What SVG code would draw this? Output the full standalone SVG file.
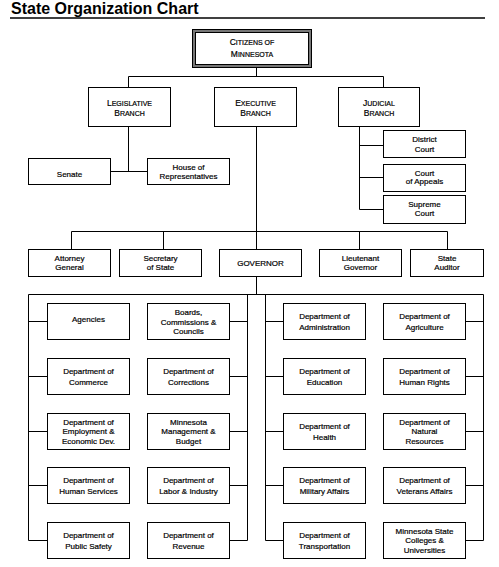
<svg xmlns="http://www.w3.org/2000/svg" width="499" height="567" viewBox="0 0 499 567">
<style>
.bg{fill:#fff}
.box{fill:#fff;stroke:#000;stroke-width:1}
.t{font-family:"Liberation Sans",Arial,sans-serif;font-size:8px;fill:#000;stroke:#000;stroke-width:0.2;text-anchor:middle}
.sc{font-family:"Liberation Sans",Arial,sans-serif;fill:#000;stroke:#000;stroke-width:0.2;text-anchor:middle;font-size:7px}
.big{font-size:8.5px}
.title{font-family:"Liberation Sans",Arial,sans-serif;font-size:16px;font-weight:bold;fill:#000}
.ln{fill:none;stroke:#000;stroke-width:1}
</style>
<rect class="bg" x="0" y="0" width="499" height="567"/>
<g id="title">
<text class="title" x="11" y="13.5">State Organization Chart</text>
<line x1="10" y1="18" x2="485" y2="18" stroke="#000" stroke-width="1.3"/>
</g>
<g id="connectors" class="ln">
<path d="M256.5 68 V76.5 M128.5 87 V76.5 H383.5 V87"/>
<path d="M128.5 127 V171.5 M110 171.5 H147"/>
<path d="M359.5 127 V209.5 M359.5 145.5 H383 M359.5 177.5 H383 M359.5 209.5 H383"/>
<path d="M256.5 127 V249 M71.5 249 V231.5 H447.5 V249 M163.5 231.5 V249 M359.5 231.5 V249"/>
<path d="M256.5 276 V294.5 M28.5 294.5 H483.5"/>
<path d="M28.5 294.5 V540.5 H47 M28.5 321.5 H47 M28.5 376.5 H47 M28.5 431.5 H47 M28.5 485.5 H47"/>
<path d="M247.5 294.5 V540.5 H229 M247.5 321.5 H229 M247.5 376.5 H229 M247.5 431.5 H229 M247.5 485.5 H229"/>
<path d="M265.5 294.5 V540.5 H283 M265.5 321.5 H283 M265.5 376.5 H283 M265.5 431.5 H283 M265.5 485.5 H283"/>
<path d="M483.5 294.5 V540.5 H465 M483.5 321.5 H465 M483.5 376.5 H465 M483.5 431.5 H465 M483.5 485.5 H465"/>
</g>
<g id="citizens">
<rect x="192.5" y="29.5" width="119" height="38" fill="#777" stroke="#000" stroke-width="1"/>
<rect x="195.5" y="32.5" width="113" height="32" class="box"/>
<text class="sc" x="252" y="45.3"><tspan class="big">C</tspan>ITIZENS OF</text>
<text class="sc" x="252" y="56.7"><tspan class="big">M</tspan>INNESOTA</text>
</g>
<g id="legislative">
<rect class="box" x="88.5" y="87.5" width="82" height="39"/>
<text class="sc" x="129.5" y="106"><tspan class="big">L</tspan>EGISLATIVE</text>
<text class="sc" x="129.5" y="116"><tspan class="big">B</tspan>RANCH</text>
</g>
<g id="executive">
<rect class="box" x="214.5" y="87.5" width="82" height="39"/>
<text class="sc" x="255.5" y="106"><tspan class="big">E</tspan>XECUTIVE</text>
<text class="sc" x="255.5" y="116"><tspan class="big">B</tspan>RANCH</text>
</g>
<g id="judicial">
<rect class="box" x="338.5" y="87.5" width="81" height="39"/>
<text class="sc" x="379" y="106"><tspan class="big">J</tspan>UDICIAL</text>
<text class="sc" x="379" y="116"><tspan class="big">B</tspan>RANCH</text>
</g>
<g id="senate">
<rect class="box" x="28.5" y="158.5" width="82" height="26"/>
<text class="t" x="69.5" y="177">Senate</text>
</g>
<g id="house">
<rect class="box" x="147.5" y="158.5" width="82" height="26"/>
<text class="t" x="188.5" y="170">House of</text>
<text class="t" x="188.5" y="179">Representatives</text>
</g>
<g id="district-court">
<rect class="box" x="383.5" y="130.5" width="82" height="27"/>
<text class="t" x="424.5" y="142">District</text>
<text class="t" x="424.5" y="151.5">Court</text>
</g>
<g id="court-of-appeals">
<rect class="box" x="383.5" y="164.5" width="82" height="27"/>
<text class="t" x="424.5" y="175.5">Court</text>
<text class="t" x="424.5" y="184">of Appeals</text>
</g>
<g id="supreme-court">
<rect class="box" x="383.5" y="195.5" width="82" height="28"/>
<text class="t" x="424.5" y="206.5">Supreme</text>
<text class="t" x="424.5" y="216">Court</text>
</g>
<g id="attorney-general">
<rect class="box" x="28.5" y="249.5" width="82" height="27"/>
<text class="t" x="69.5" y="260.5">Attorney</text>
<text class="t" x="69.5" y="270">General</text>
</g>
<g id="secretary-of-state">
<rect class="box" x="119.5" y="249.5" width="82" height="27"/>
<text class="t" x="160.5" y="260.5">Secretary</text>
<text class="t" x="160.5" y="270">of State</text>
</g>
<g id="governor">
<rect class="box" x="219.5" y="249.5" width="82" height="27"/>
<text class="t" x="260.5" y="266">GOVERNOR</text>
</g>
<g id="lieutenant-governor">
<rect class="box" x="319.5" y="249.5" width="82" height="27"/>
<text class="t" x="360.5" y="260.5">Lieutenant</text>
<text class="t" x="360.5" y="270">Governor</text>
</g>
<g id="state-auditor">
<rect class="box" x="410.5" y="249.5" width="73" height="27"/>
<text class="t" x="447" y="260.5">State</text>
<text class="t" x="447" y="270">Auditor</text>
</g>
<g id="agencies">
<rect class="box" x="47.5" y="303.5" width="82" height="36"/>
<text class="t" x="88.5" y="322">Agencies</text>
</g>
<g id="boards">
<rect class="box" x="147.5" y="303.5" width="82" height="36"/>
<text class="t" x="188.5" y="315">Boards,</text>
<text class="t" x="188.5" y="324.5">Commissions &amp;</text>
<text class="t" x="188.5" y="334">Councils</text>
</g>
<g id="administration">
<rect class="box" x="283.5" y="303.5" width="82" height="36"/>
<text class="t" x="324.5" y="319">Department of</text>
<text class="t" x="324.5" y="330">Administration</text>
</g>
<g id="agriculture">
<rect class="box" x="383.5" y="303.5" width="82" height="36"/>
<text class="t" x="424.5" y="319">Department of</text>
<text class="t" x="424.5" y="330">Agriculture</text>
</g>
<g id="commerce">
<rect class="box" x="47.5" y="358.5" width="82" height="36"/>
<text class="t" x="88.5" y="374">Department of</text>
<text class="t" x="88.5" y="385">Commerce</text>
</g>
<g id="corrections">
<rect class="box" x="147.5" y="358.5" width="82" height="36"/>
<text class="t" x="188.5" y="374">Department of</text>
<text class="t" x="188.5" y="385">Corrections</text>
</g>
<g id="education">
<rect class="box" x="283.5" y="358.5" width="82" height="36"/>
<text class="t" x="324.5" y="374">Department of</text>
<text class="t" x="324.5" y="385">Education</text>
</g>
<g id="human-rights">
<rect class="box" x="383.5" y="358.5" width="82" height="36"/>
<text class="t" x="424.5" y="374">Department of</text>
<text class="t" x="424.5" y="385">Human Rights</text>
</g>
<g id="employment">
<rect class="box" x="47.5" y="413.5" width="82" height="36"/>
<text class="t" x="88.5" y="424.5">Department of</text>
<text class="t" x="88.5" y="434">Employment &amp;</text>
<text class="t" x="88.5" y="443.5">Economic Dev.</text>
</g>
<g id="mmb">
<rect class="box" x="147.5" y="413.5" width="82" height="36"/>
<text class="t" x="188.5" y="424.5">Minnesota</text>
<text class="t" x="188.5" y="434">Management &amp;</text>
<text class="t" x="188.5" y="443.5">Budget</text>
</g>
<g id="health">
<rect class="box" x="283.5" y="413.5" width="82" height="36"/>
<text class="t" x="324.5" y="429">Department of</text>
<text class="t" x="324.5" y="440">Health</text>
</g>
<g id="natural-resources">
<rect class="box" x="383.5" y="413.5" width="82" height="36"/>
<text class="t" x="424.5" y="424.5">Department of</text>
<text class="t" x="424.5" y="434">Natural</text>
<text class="t" x="424.5" y="443.5">Resources</text>
</g>
<g id="human-services">
<rect class="box" x="47.5" y="467.5" width="82" height="36"/>
<text class="t" x="88.5" y="483">Department of</text>
<text class="t" x="88.5" y="494">Human Services</text>
</g>
<g id="labor">
<rect class="box" x="147.5" y="467.5" width="82" height="36"/>
<text class="t" x="188.5" y="483">Department of</text>
<text class="t" x="188.5" y="494">Labor &amp; Industry</text>
</g>
<g id="military">
<rect class="box" x="283.5" y="467.5" width="82" height="36"/>
<text class="t" x="324.5" y="483">Department of</text>
<text class="t" x="324.5" y="494">Military Affairs</text>
</g>
<g id="veterans">
<rect class="box" x="383.5" y="467.5" width="82" height="36"/>
<text class="t" x="424.5" y="483">Department of</text>
<text class="t" x="424.5" y="494">Veterans Affairs</text>
</g>
<g id="public-safety">
<rect class="box" x="47.5" y="522.5" width="82" height="36"/>
<text class="t" x="88.5" y="538">Department of</text>
<text class="t" x="88.5" y="549">Public Safety</text>
</g>
<g id="revenue">
<rect class="box" x="147.5" y="522.5" width="82" height="36"/>
<text class="t" x="188.5" y="538">Department of</text>
<text class="t" x="188.5" y="549">Revenue</text>
</g>
<g id="transportation">
<rect class="box" x="283.5" y="522.5" width="82" height="36"/>
<text class="t" x="324.5" y="538">Department of</text>
<text class="t" x="324.5" y="549">Transportation</text>
</g>
<g id="mnscu">
<rect class="box" x="383.5" y="522.5" width="82" height="36"/>
<text class="t" x="424.5" y="533.5">Minnesota State</text>
<text class="t" x="424.5" y="543">Colleges &amp;</text>
<text class="t" x="424.5" y="552.5">Universities</text>
</g>
</svg>
